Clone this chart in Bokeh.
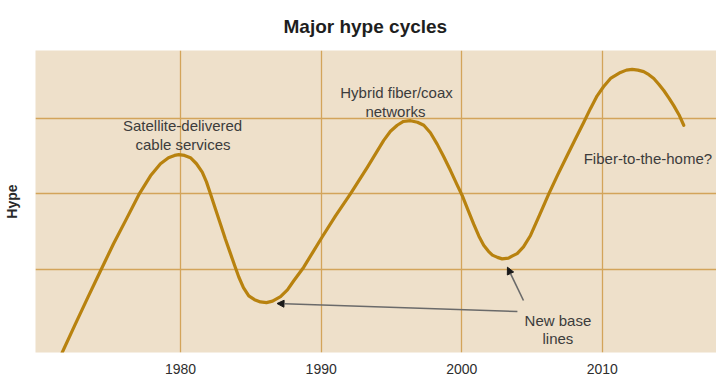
from bokeh.plotting import figure
from bokeh.models import Range1d, FixedTicker, Label, Arrow, NormalHead, ColumnDataSource
from bokeh.embed import file_html
from bokeh.resources import INLINE

# ---- data ----
years = [1971.58, 1972.52, 1973.38, 1974.30, 1975.23, 1976.15, 1977.03, 1977.86,
         1978.57, 1979.14, 1979.57, 1979.87,
         1980.28, 1980.70, 1981.13, 1981.54, 1981.84, 1982.13, 1982.48, 1982.84,
         1983.19, 1983.55, 1983.87, 1984.14, 1984.47, 1984.85, 1985.26, 1985.68,
         1986.11,
         1986.54, 1987.11, 1987.60, 1988.05, 1988.76, 1989.38, 1990.07, 1991.02,
         1992.08, 1993.27, 1994.45, 1994.93, 1995.41, 1995.85, 1996.35,
         1996.85, 1997.30, 1997.77, 1998.25, 1998.70, 1999.20, 1999.62, 2000.03,
         2000.44, 2000.85, 2001.22, 2001.56, 2001.90, 2002.18, 2002.54, 2002.87,
         2003.32, 2003.61, 2003.94,
         2004.39, 2004.89, 2005.53, 2006.19, 2006.84, 2007.50, 2008.09, 2008.68,
         2009.15, 2009.63, 2010.08, 2010.58, 2011.29, 2011.71, 2012.12, 2012.53,
         2012.94, 2013.31, 2013.66, 2014.03, 2014.37, 2014.74, 2015.08, 2015.45,
         2015.79]
hype = [-0.10, 0.28, 0.62, 0.98, 1.34, 1.67, 1.99, 2.24,
        2.40, 2.48, 2.51, 2.52,
        2.51, 2.48, 2.40, 2.29, 2.16, 2.00, 1.80, 1.60,
        1.40, 1.21, 1.04, 0.90, 0.76, 0.65, 0.60, 0.57,
        0.56,
        0.58, 0.64, 0.73, 0.85, 1.03, 1.22, 1.43, 1.71,
        2.00, 2.35, 2.71, 2.83, 2.91, 2.96, 2.97,
        2.95, 2.91, 2.81, 2.66, 2.50, 2.31, 2.14, 1.98,
        1.79, 1.60, 1.44, 1.32, 1.24, 1.19, 1.16, 1.14,
        1.15, 1.18, 1.21,
        1.30, 1.45, 1.72, 2.00, 2.26, 2.51, 2.73, 2.95,
        3.13, 3.30, 3.42, 3.53, 3.61, 3.64, 3.65, 3.64,
        3.62, 3.58, 3.53, 3.45, 3.37, 3.27, 3.17, 3.05,
        2.91]
x_ticks = [1980, 1990, 2000, 2010]
x_tick_labels = ["1980", "1990", "2000", "2010"]
y_grid = [1, 2, 3]

title_text = "Major hype cycles"
y_label_text = "Hype"
annotations = [
    ("Satellite-delivered", 1980.14, 2.91),
    ("cable services", 1980.17, 2.65),
    ("Hybrid fiber/coax", 1995.36, 3.34),
    ("networks", 1995.28, 3.09),
    ("Fiber-to-the-home?", 2013.24, 2.47),
    ("New base", 2006.84, 0.32),
    ("lines", 2006.84, 0.085),
]

BG = "#eee0ca"
CURVE = "#b8820f"
GRID = "#d3a45a"
TXT = "#3c3c3c"
FONT = "Liberation Sans"

p = figure(width=716, height=380, output_backend="svg", toolbar_location=None,
           x_range=Range1d(1969.68, 2018.12), y_range=Range1d(-0.1, 3.9),
           min_border_left=35, min_border_right=0, min_border_top=50,
           min_border_bottom=28)
p.background_fill_color = BG
p.border_fill_color = "white"
p.outline_line_color = None

p.title.text = title_text
p.title.align = "left"
p.title.text_font = FONT
p.title.text_font_size = "19px"
p.title.text_font_style = "bold"
p.title.text_color = "#1e1e1e"
p.title.offset = 248
p.title.standoff = 27

p.xgrid.ticker = FixedTicker(ticks=x_ticks)
p.ygrid.ticker = FixedTicker(ticks=y_grid)
for g in (p.xgrid, p.ygrid):
    g.grid_line_color = GRID
    g.grid_line_width = 1.3

ax = p.xaxis[0]
ax.ticker = FixedTicker(ticks=x_ticks)
ax.major_label_overrides = {t: l for t, l in zip(x_ticks, x_tick_labels)}
ax.axis_line_color = None
ax.major_tick_line_color = None
ax.minor_tick_line_color = None
ax.major_label_standoff = 5
ax.major_label_text_font = FONT
ax.major_label_text_font_size = "14px"
ax.major_label_text_color = "#2e2e2e"

ay = p.yaxis[0]
ay.ticker = FixedTicker(ticks=[])
ay.axis_line_color = None
ay.major_tick_line_color = None
ay.minor_tick_line_color = None
ay.major_label_text_font_size = "0px"
ay.axis_label = y_label_text
ay.axis_label_text_font = FONT
ay.axis_label_text_font_size = "14px"
ay.axis_label_text_font_style = "bold"
ay.axis_label_text_color = "#2a2a2a"
ay.axis_label_standoff = 16

src = ColumnDataSource(data=dict(x=years, y=hype))
p.line("x", "y", source=src, line_color=CURVE, line_width=3.2,
       line_join="round", line_cap="round")

for txt, x, y in annotations:
    p.add_layout(Label(x=x, y=y, text=txt, text_align="center",
                       text_baseline="alphabetic", text_font=FONT,
                       text_font_size="15px", text_color=TXT))

arrow_head = dict(size=7, fill_color="#1a1a1a", line_color="#1a1a1a", line_width=1)
p.add_layout(Arrow(end=NormalHead(**arrow_head), x_start=2003.96, y_start=0.443,
                   x_end=1986.86, y_end=0.549, line_color="#6a6a6a", line_width=1.6))
p.add_layout(Arrow(end=NormalHead(**arrow_head), x_start=2004.39, y_start=0.589,
                   x_end=2003.25, y_end=1.03, line_color="#6a6a6a", line_width=1.6))

open("out.html", "w").write(file_html(p, INLINE))
